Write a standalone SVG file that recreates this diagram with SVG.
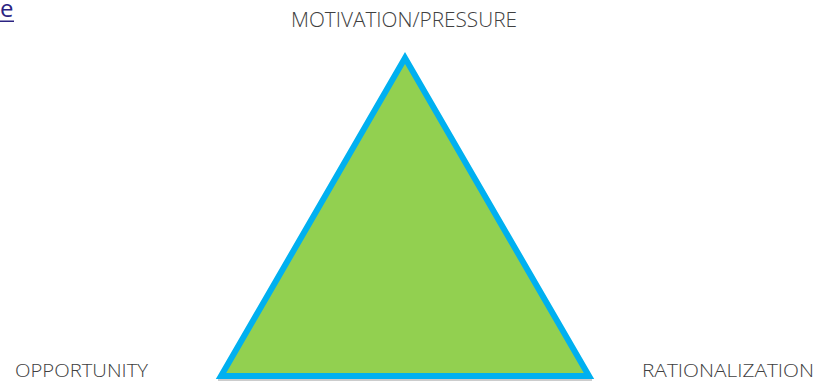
<svg xmlns="http://www.w3.org/2000/svg" width="817" height="381" viewBox="0 0 817 381">
<style>
.lbl{font-family:"Open Sans","Liberation Sans",sans-serif;font-weight:300;font-size:19.5px;fill:#404040}
.bot{font-size:19px}
.link{font-family:"Open Sans","Liberation Sans",sans-serif;font-size:24px;fill:#2b2382}
</style>
<rect width="817" height="381" fill="#ffffff"/>
<g id="link-fragment">
<text class="link" x="0" y="16.5">e</text>
<rect x="0" y="20.5" width="14" height="1.5" fill="#2b2382"/>
</g>
<g id="triangle">
<line x1="218" y1="380" x2="592" y2="380" stroke="#9a9a9a" stroke-width="1.2"/>
<polygon points="405,58 221,376 589,376" fill="#92d050" stroke="#00b0f0" stroke-width="6" stroke-linejoin="miter"/>
</g>
<g id="label-motivation"><text class="lbl" x="291" y="27" textLength="226" lengthAdjust="spacingAndGlyphs">MOTIVATION/PRESSURE</text></g>
<g id="label-opportunity"><text class="lbl bot" x="15" y="376.5" textLength="133" lengthAdjust="spacingAndGlyphs">OPPORTUNITY</text></g>
<g id="label-rationalization"><text class="lbl bot" x="642" y="376.5" textLength="172" lengthAdjust="spacingAndGlyphs">RATIONALIZATION</text></g>
<g id="connectors"/>
</svg>
